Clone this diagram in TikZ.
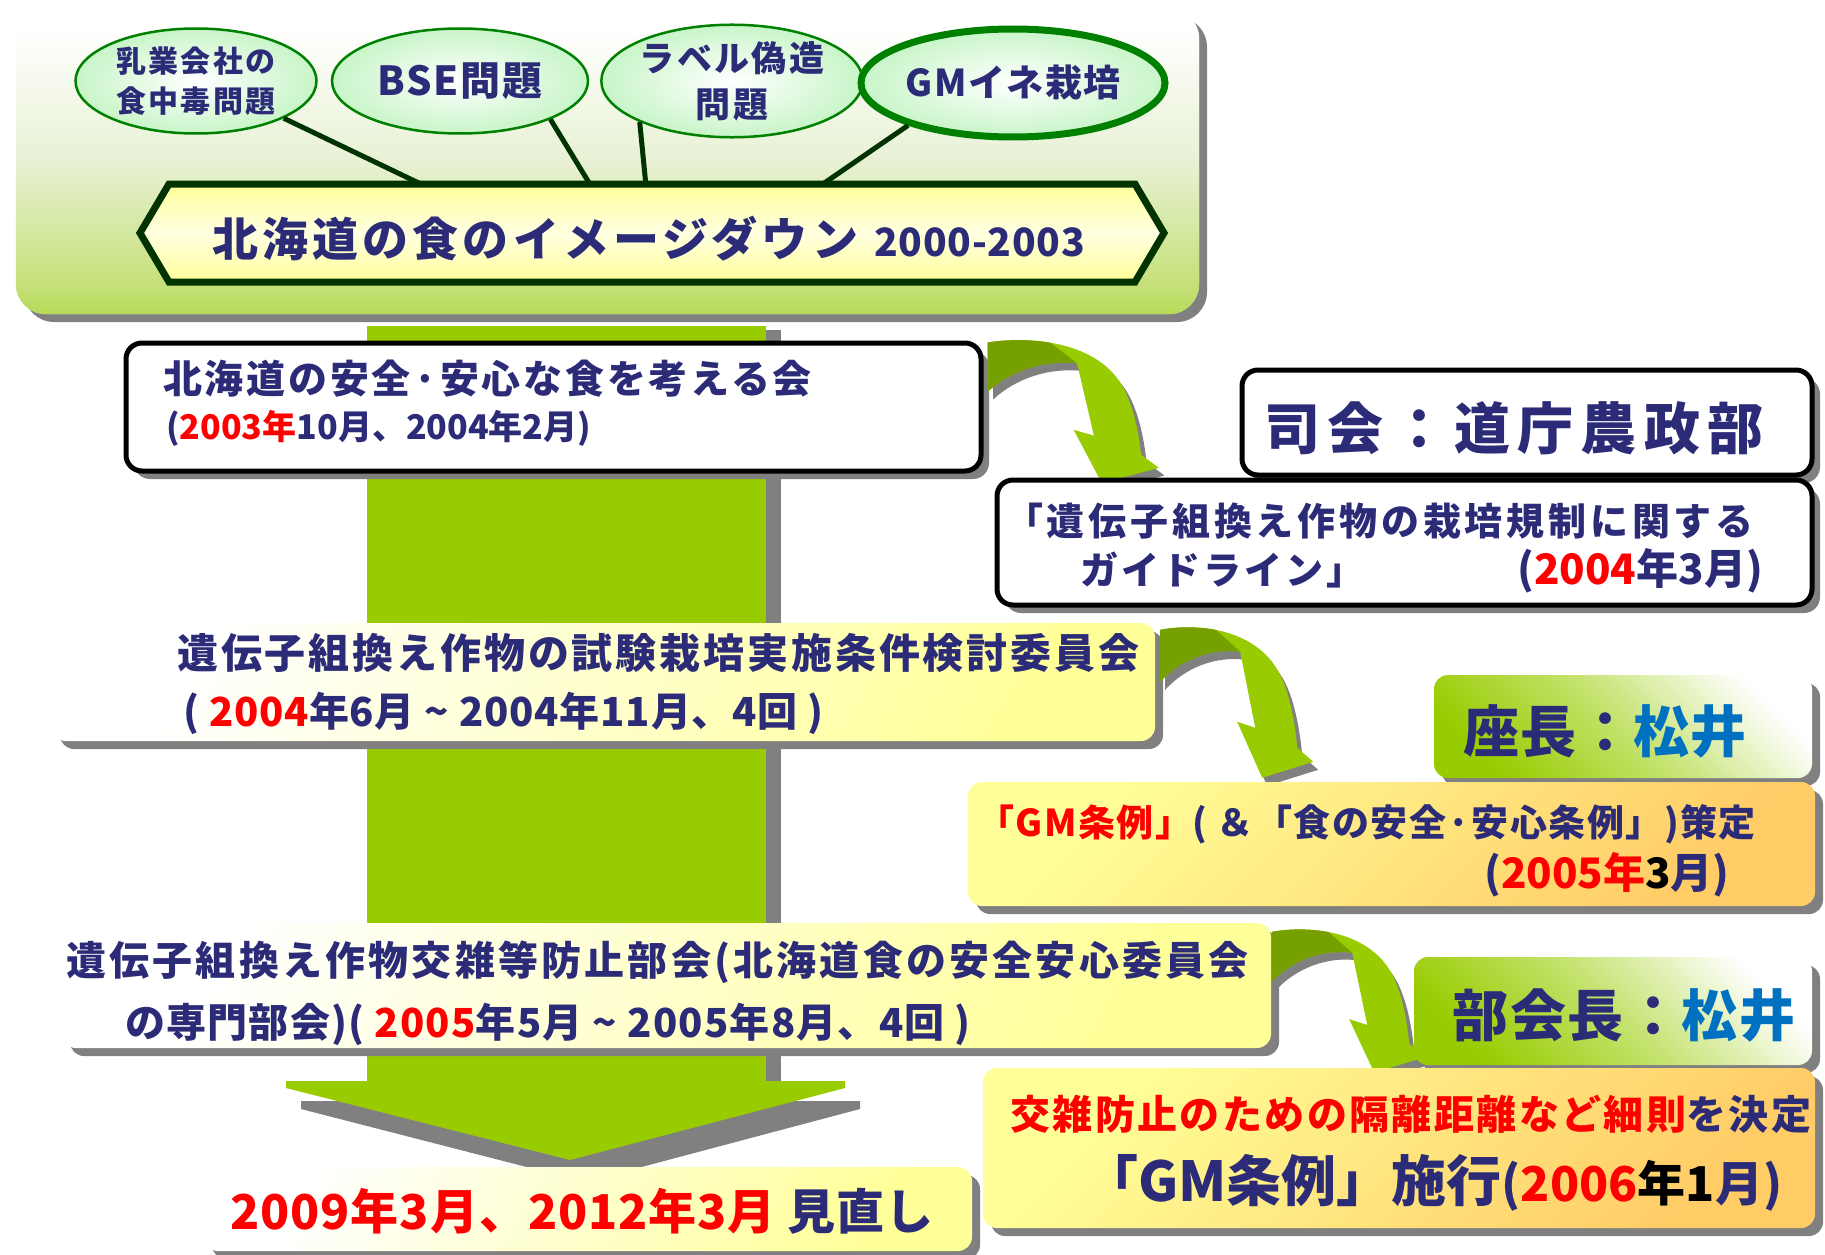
\documentclass[tikz,border=0pt]{standalone}
\usepackage{fontspec}
\setmainfont{Noto Sans CJK JP}
\usetikzlibrary{shapes.geometric,shadows,calc}
\definecolor{navy}{RGB}{43,43,120}
\definecolor{jred}{RGB}{255,0,0}
\definecolor{jblue}{RGB}{0,112,192}
\definecolor{bright}{RGB}{153,204,0}
\definecolor{olivec}{RGB}{118,160,0}
\definecolor{shadowgray}{RGB}{128,128,128}
\definecolor{lyellow}{RGB}{255,255,153}
\definecolor{lorange}{RGB}{255,204,102}
\definecolor{dkgreen}{RGB}{0,51,0}
\definecolor{egreen}{RGB}{0,128,0}
\definecolor{eball}{RGB}{200,245,200}
\definecolor{palegreen}{RGB}{232,241,212}
\definecolor{midgreen}{RGB}{196,224,120}
\pgfdeclareverticalshading{panelshade}{100bp}{color(0bp)=(bright); color(45bp)=(bright); color(47.2bp)=(midgreen); color(50bp)=(palegreen); color(53bp)=(white); color(100bp)=(white)}
\newcommand{\fsz}[2]{\fontsize{#1pt}{#2pt}\selectfont}
\newcommand{\lsp}[1]{\addfontfeature{LetterSpace=#1}}
\newcommand{\jr}[1]{\textcolor{jred}{#1}}
\newcommand{\jb}[1]{\textcolor{jblue}{#1}}
\newcommand{\jk}[1]{\textcolor{black}{#1}}
\tikzset{
  shadowed/.style={drop shadow={shadow xshift=8pt, shadow yshift=-8pt, fill=shadowgray, opacity=1}},
  panelbase/.style={rounded corners=30pt, inner sep=0pt, fill=white, shadowed},
  ball/.style={ellipse, draw=egreen, line width=2.5pt, inner color=white, outer color=eball, inner sep=0pt, text=navy, align=center},
  link/.style={draw=dkgreen, line width=5pt},
  hexa/.style={draw=dkgreen, line width=7pt, line join=miter, top color=lyellow, bottom color=lyellow, middle color={rgb,255:red,255;green,255;blue,225}},
  whitebox/.style={draw=black, line width=5pt, fill=white, rounded corners=16pt, inner sep=0pt, shadowed},
  ybox/.style={rounded corners=14pt, inner sep=0pt, top color=white, bottom color=lyellow, shading angle=60, shadowed},
  obox/.style={rounded corners=14pt, inner sep=0pt, top color=lyellow, bottom color=lorange, shading angle=45, shadowed},
  gbox/.style={rounded corners=14pt, inner sep=0pt, top color=white, bottom color=bright, middle color={rgb,255:red,196;green,226;blue,110}, shading angle=-45, shadowed},
  txt/.style={anchor=base west, inner sep=0pt, text=navy},
  ctxt/.style={anchor=base, inner sep=0pt, text=navy},
  pics/bentarrow/.style={code={
    \fill[shadowgray, xshift=5pt, yshift=-8pt] (0,0) .. controls (30,-6) and (95,-5) .. (120,45) .. controls (130,65) and (135,95) .. (137,118) -- (153,132) -- (102,148) -- (77,92) -- (95,98) -- (80,22) .. controls (50,18) and (20,30) .. (0,52) -- cycle;
    \begin{scope}
      \clip (0,0) .. controls (30,-6) and (95,-5) .. (120,45) .. controls (130,65) and (135,95) .. (137,118) -- (153,132) -- (102,148) -- (77,92) -- (95,98) -- (80,22) .. controls (50,18) and (20,30) .. (0,52) -- cycle;
      \fill[bright] (-20,-40) rectangle (200,200);
      \fill[olivec] (-20,-40) -- (12,-40) -- (80,22) -- (80,60) -- (-20,60) -- cycle;
    \end{scope}
  }}
}
\begin{document}
\bfseries
\begin{tikzpicture}[x=1pt,y=-1pt]
\useasboundingbox (0,0) rectangle (1825,1255);
\fill[white] (0,0) rectangle (1825,1255);

% top panel
\node[panelbase, minimum width=1183pt, minimum height=305pt] (panel) at (607.5,161.5) {};
\begin{scope}
  \clip[rounded corners=30pt] (panel.north west) rectangle (panel.south east);
  \shade[shading=panelshade, rotate around={35:(panel.center)}] ($(panel.center)+(-800,-800)$) rectangle ($(panel.center)+(800,800)$);
\end{scope}

% ellipses
\node[ball, minimum width=241pt, minimum height=105pt, font=\fsz{30}{40}\lsp{7}] (e1) at (196,81) {乳業会社の\\食中毒問題};
\node[ball, minimum width=256pt, minimum height=105pt, font=\fsz{40}{44}\lsp{4}] (e2) at (460,81) {BSE問題};
\node[ball, minimum width=258pt, minimum height=105pt, font=\fsz{35}{46}\lsp{7}] (e3) at (732,81) {ラベル偽造\\問題};
\node[ball, line width=7pt, minimum width=277pt, minimum height=108pt, font=\fsz{37}{42}\lsp{4}] (e4) at (1013,83) {GMイネ栽培};

\coordinate (h1) at (425,186);
\coordinate (h2) at (591,186);
\coordinate (h3) at (646,186);
\coordinate (h4) at (820,186);
\draw[link] (e1.-23) -- (h1);
\draw[link] (e2.-23) -- (h2);
\draw[link] (e3.-156) -- (h3);
\draw[link] (e4.-158) -- (h4);

% hexagon banner
\path[hexa] (140,233) -- (169,184) -- (1135,184) -- (1164,233) -- (1135,282) -- (169,282) -- cycle;
\node[txt] (title) at (212,256) {\fsz{46}{55}\lsp{9}北海道の食のイメージダウン\hspace{16pt}{\fsz{39}{42}\lsp{2}2000-2003}};

% big vertical arrow
\fill[shadowgray] (381,330) rectangle (781,1081);
\fill[shadowgray] (301,1101) -- (860,1101) -- (860,1109) -- (585,1182) -- (301,1109) -- cycle;
\fill[bright] (367,326) rectangle (766,1081);
\fill[bright] (286,1081) -- (845,1081) -- (845,1088) -- (570,1160) -- (286,1088) -- cycle;

% left boxes
\node[whitebox, minimum width=855pt, minimum height=128pt] (b1) at (553.5,407) {};
\node[ybox, minimum width=1103pt, minimum height=118pt] (bkento) at (603.5,682) {};
\node[ybox, minimum width=1209pt, minimum height=125pt] (bbukai) at (666.5,985.5) {};
\node[ybox, minimum width=768pt, minimum height=84pt] (b2009) at (588,1209) {};

% bent arrows
\pic[xscale=1.12, yscale=0.95] (arr1) at ($(b1.north east)+(4,2)$) {bentarrow};
\pic (arr2) at ($(bkento.north east)+(5,7)$) {bentarrow};
\pic[yscale=0.95] (arr3) at ($(bbukai.north east)+(1,9)$) {bentarrow};

% right boxes
\node[whitebox, minimum width=570pt, minimum height=105pt] (bshikai) at (1527,422.5) {};
\node[whitebox, minimum width=815pt, minimum height=125pt] (bguide) at (1404.5,542.5) {};
\node[gbox, minimum width=378pt, minimum height=103pt] (bzacho) at (1623,726.5) {};
\node[obox, minimum width=847pt, minimum height=124pt] (bjorei) at (1391.5,844) {};
\node[gbox, minimum width=398pt, minimum height=108pt] (bbukaicho) at (1613,1011) {};
\node[obox, minimum width=832pt, minimum height=160pt] (bkouzatsu) at (1399,1148) {};

% texts
\node[txt] (t1a) at (163,393) {\fsz{39}{45}\lsp{7}北海道の安全·安心な食を考える会};
\node[txt] (t1b) at (166,439) {\fsz{34}{40}(\jr{2003年}10月、2004年2月)};

\node[ctxt] (t2) at (1514,449) {\fsz{56}{60}\lsp{13}司会：道庁農政部};

\node[txt] (t3a) at (1005,535) {\fsz{38}{44}\lsp{10}「遺伝子組換え作物の栽培規制に関する};
\node[txt] (t3b) at (1080,584) {\fsz{38}{44}\lsp{8}ガイドライン」};
\node[anchor=base east, inner sep=0pt, text=navy] (t3c) at (1763,584) {\fsz{42}{46}(\jr{2004}年3月)};

\node[txt] (t4a) at (177,668) {\fsz{41}{46}\lsp{7}遺伝子組換え作物の試験栽培実施条件検討委員会};
\node[txt] (t4b) at (183,726) {\fsz{40}{44}\lsp{2}( \jr{2004}年6月 \textasciitilde{} 2004年11月、4回 )};

\node[ctxt] (t5) at (1605,752) {\fsz{56}{60}\lsp{2}座長：\jb{松井}};

\node[txt] (t6a) at (977,836) {\fsz{37}{42}\lsp{4}\jr{「GM条例」}( ＆「食の安全·安心条例」)策定};
\node[txt] (t6b) at (1484,888) {\fsz{42}{46}(\jr{2005年}\jk{3}月)};

\node[txt] (t7a) at (66,975) {\fsz{40}{46}\lsp{8}遺伝子組換え作物交雑等防止部会(北海道食の安全安心委員会};
\node[txt] (t7b) at (125,1037) {\fsz{40}{46}\lsp{3}の専門部会)( \jr{2005}年5月 \textasciitilde{} 2005年8月、4回 )};

\node[ctxt] (t8) at (1624,1036) {\fsz{56}{60}\lsp{3}部会長：\jb{松井}};

\node[txt] (t9a) at (1010,1129) {\fsz{40}{46}\lsp{6}\jr{交雑防止のための隔離距離など細則}を決定};
\node[txt] (t9b) at (1083,1201) {\fsz{55}{60}「GM条例」施行{\fsz{48}{52}(\jr{2006}\jk{年1}月)}};

\node[txt] (t10) at (230,1229) {\fsz{48}{54}\lsp{2}\jr{2009年3月、2012年3月} 見直し};
\end{tikzpicture}
\end{document}
